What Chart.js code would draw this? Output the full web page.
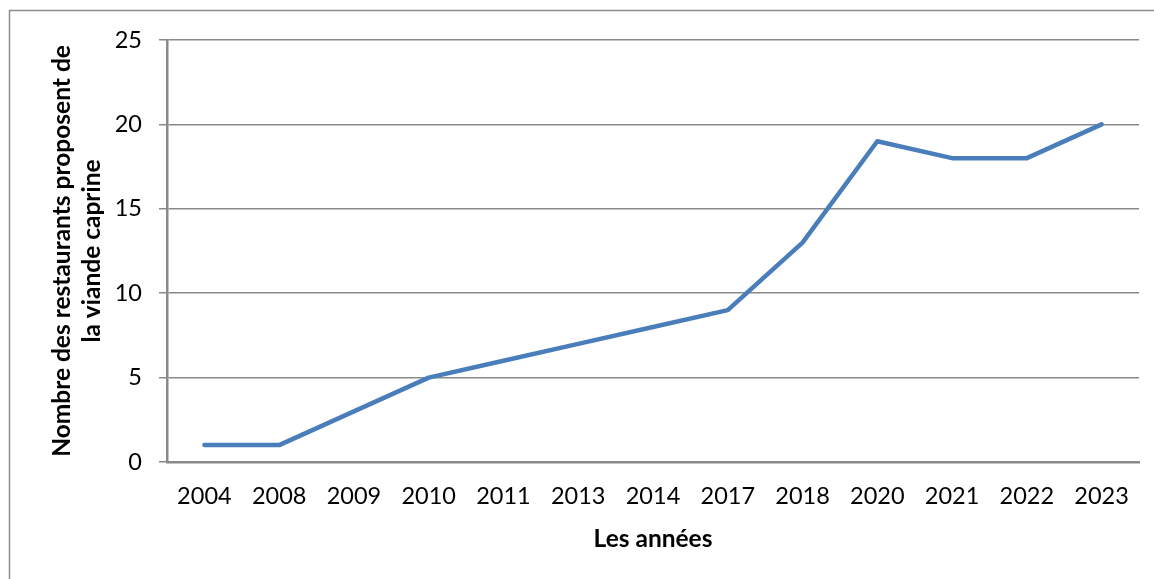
<!DOCTYPE html>
<html>
<head>
<meta charset="utf-8">
<script src="https://cdn.jsdelivr.net/npm/chart.js@4/dist/chart.umd.min.js"></script>
<style>
  html, body { margin: 0; padding: 0; background: #fff; }
  #wrap { width: 1154px; height: 579px; position: relative; }
</style>
</head>
<body>
<div id="wrap"><canvas id="chart" width="1154" height="579"></canvas></div>
<script>
// Restaurants offering goat meat, per year
const years = ['2004', '2008', '2009', '2010', '2011', '2013', '2014', '2017', '2018', '2020', '2021', '2022', '2023'];
const restaurants = [1, 1, 3, 5, 6, 7, 8, 9, 13, 19, 18, 18, 20];
const yTicks = [0, 5, 10, 15, 20, 25];

const yTitle = ['Nombre des restaurants proposent de', 'la viande caprine'];
const xTitle = 'Les années';

const GRID = '#8a8a8a';
const FONT = 'Lato, "Open Sans", sans-serif';

// Outer frame, drawn like an embedded office chart box
const framePlugin = {
  id: 'frame',
  beforeDraw(chart) {
    const ctx = chart.ctx;
    ctx.save();
    ctx.fillStyle = '#fff';
    ctx.fillRect(0, 0, chart.width, chart.height);
    ctx.strokeStyle = '#8d8d8d';
    ctx.lineWidth = 1.5;
    ctx.strokeRect(9.5, 10.5, chart.width + 20, chart.height + 20);
    ctx.restore();
  }
};

new Chart(document.getElementById('chart'), {
  type: 'line',
  data: {
    labels: years,
    datasets: [{
      data: restaurants,
      borderColor: '#4a7ebb',
      borderWidth: 4.5,
      borderCapStyle: 'round',
      borderJoinStyle: 'round',
      pointRadius: 0,
      tension: 0,
      fill: false
    }]
  },
  options: {
    responsive: false,
    animation: false,
    layout: { padding: { left: 0, right: 15, top: 40, bottom: 0 } },
    plugins: {
      legend: { display: false },
      tooltip: { enabled: false }
    },
    scales: {
      x: {
        offset: true,
        grid: { display: false, drawTicks: false, offset: true },
        border: { display: true, color: GRID, width: 2.5 },
        ticks: {
          color: '#000',
          padding: 20,
          maxRotation: 0,
          autoSkip: false,
          font: { family: FONT, size: 23.5 }
        },
        title: {
          display: true,
          text: xTitle,
          color: '#000',
          padding: { top: 0, bottom: 25 },
          font: { family: FONT, size: 24.5, weight: 'bold', lineHeight: 1.2 }
        },
        afterFit(scale) { scale.height = 117; }
      },
      y: {
        min: 0,
        max: 25,
        afterBuildTicks(scale) {
          scale.ticks = yTicks.map(v => ({ value: v }));
        },
        grid: { color: GRID, lineWidth: 1.5, tickLength: 8 },
        border: { display: true, color: GRID, width: 2.5 },
        ticks: {
          color: '#000',
          padding: 17,
          font: { family: FONT, size: 23.5 }
        },
        title: {
          display: true,
          text: yTitle,
          color: '#000',
          padding: { top: 47, bottom: 0 },
          font: { family: FONT, size: 24.5, weight: 'bold', lineHeight: 30 / 24.5 }
        },
        afterFit(scale) { scale.width = 167; }
      }
    }
  },
  plugins: [framePlugin]
});
</script>
</body>
</html>
